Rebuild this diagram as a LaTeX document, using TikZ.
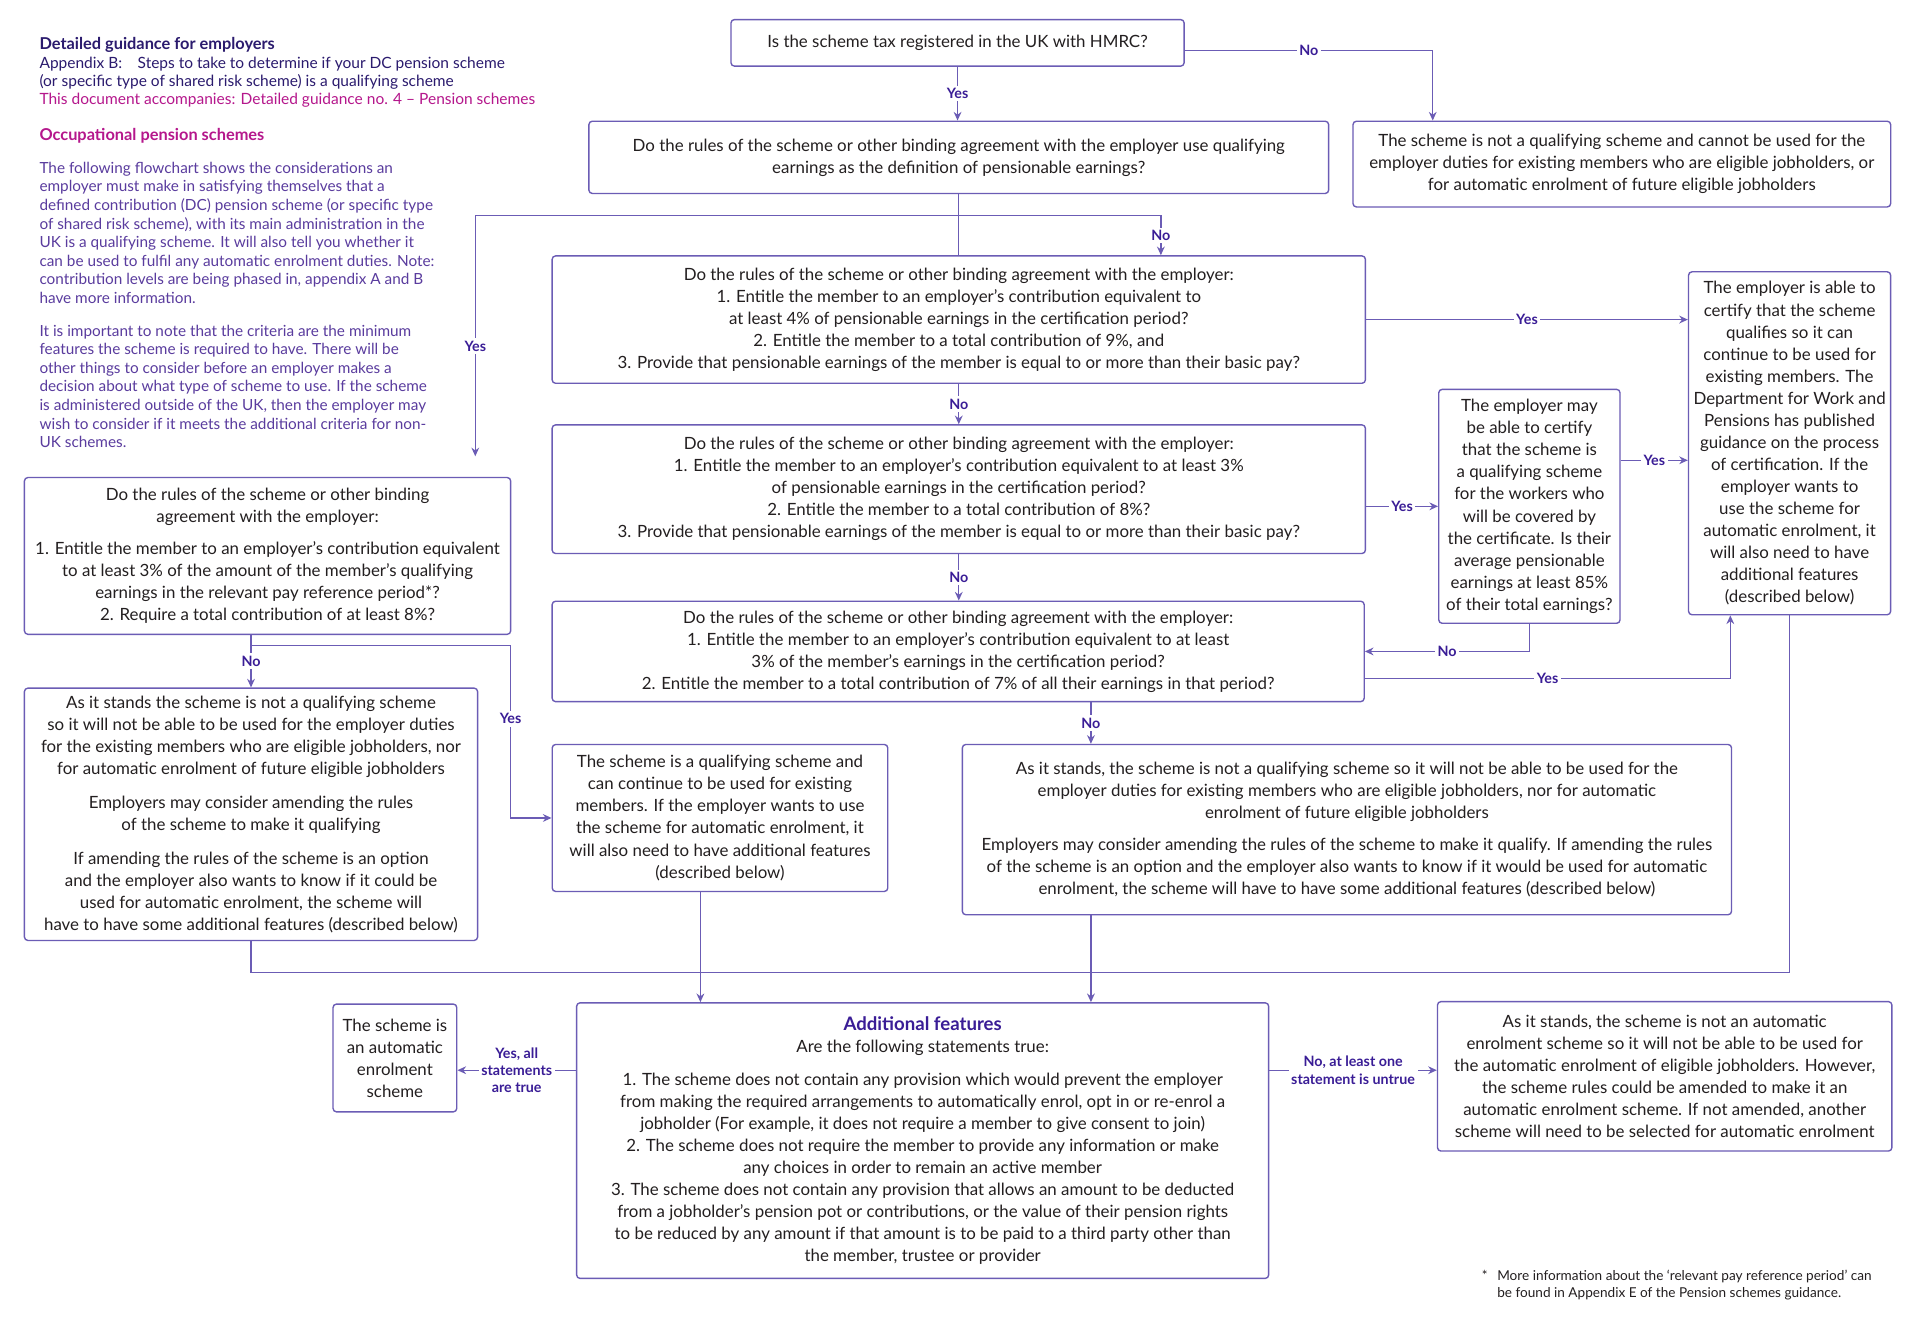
\documentclass[tikz,border=0pt]{standalone}
\usepackage{fontspec}
\setmainfont{Lato}
\usetikzlibrary{arrows.meta}

\definecolor{linecol}{HTML}{6B5CB5}
\definecolor{lblcol}{HTML}{3A1D96}
\definecolor{titlecol}{HTML}{2B1B6E}
\definecolor{magcol}{HTML}{B5178C}
\definecolor{paracol}{HTML}{5A3C9E}
\definecolor{bodycol}{HTML}{231F20}

\newcommand{\boxfont}{\fontsize{9.8}{12.8}\selectfont}
\newcommand{\parafont}{\fontsize{8.9}{10.8}\selectfont}
\newcommand{\hdrfont}{\fontsize{9}{11}\selectfont}

\begin{document}
\begin{tikzpicture}[
    x=0.025cm, y=-0.025cm,
    font=\boxfont,
    box/.style={
        draw=linecol,
        line width=0.8pt,
        rounded corners=2pt,
        align=center,
        inner sep=0pt,
        text=bodycol
    },
    lbl/.style={
        fill=white,
        text=lblcol,
        font=\fontsize{8.3}{10}\selectfont\bfseries,
        inner sep=1.5pt
    },
    conn/.style={draw=linecol, line width=0.8pt},
    arrow/.style={conn, -{Stealth[length=5pt,width=4.5pt]}}
]
\useasboundingbox (0,0) rectangle (1568,1079);
\path[fill=white] (0,0) rectangle (1568,1079);

% Heading and notes
\node[anchor=west, inner sep=0pt, text=titlecol, font=\fontsize{9.5}{11}\selectfont\bfseries] (title) at (32,37) {Detailed guidance for employers};
\node[anchor=west, inner sep=0pt, text=titlecol, font=\hdrfont] (appx) at (32,52) {Appendix B:\quad Steps to take to determine if your DC pension scheme};
\node[anchor=west, inner sep=0pt, text=titlecol, font=\hdrfont] (appxb) at (32,67) {(or specific type of shared risk scheme) is a qualifying scheme};
\node[anchor=west, inner sep=0pt, text=magcol, font=\hdrfont] (accomp) at (32,82) {This document accompanies: Detailed guidance no. 4 -- Pension schemes};
\node[anchor=west, inner sep=0pt, text=magcol, font=\fontsize{9.5}{11}\selectfont\bfseries] (occup) at (32,111) {Occupational pension schemes};
\node[anchor=north west, align=left, inner sep=0pt, text=paracol, font=\parafont] (introa) at (32,132)
{The following flowchart shows the considerations an\\employer must make in satisfying themselves that a\\defined contribution (DC) pension scheme (or specific type\\of shared risk scheme), with its main administration in the\\UK is a qualifying scheme. It will also tell you whether it\\can be used to fulfil any automatic enrolment duties. Note:\\contribution levels are being phased in, appendix A and B\\have more information.};
\node[anchor=north west, align=left, inner sep=0pt, text=paracol, font=\parafont] (introb) at (32,265)
{It is important to note that the criteria are the minimum\\features the scheme is required to have. There will be\\other things to consider before an employer makes a\\decision about what type of scheme to use. If the scheme\\is administered outside of the UK, then the employer may\\wish to consider if it meets the additional criteria for non-\\UK schemes.};

% Top questions
\node[box, minimum width=9.25cm, minimum height=0.95cm] (hmrc) at (782,35)
{Is the scheme tax registered in the UK with HMRC?};
\node[box, minimum width=15.1cm, minimum height=1.475cm] (qualearn) at (783,128.5)
{Do the rules of the scheme or other binding agreement with the employer use qualifying\\earnings as the definition of pensionable earnings?};
\node[box, minimum width=10.975cm, minimum height=1.75cm] (notqual) at (1324.5,134)
{The scheme is not a qualifying scheme and cannot be used for the\\employer duties for existing members who are eligible jobholders, or\\for automatic enrolment of future eligible jobholders};

% Middle questions
\node[box, minimum width=16.6cm, minimum height=2.6cm] (qfour) at (783,261)
{Do the rules of the scheme or other binding agreement with the employer:\\1. Entitle the member to an employer’s contribution equivalent to\\at least 4\% of pensionable earnings in the certification period?\\2. Entitle the member to a total contribution of 9\%, and\\3. Provide that pensionable earnings of the member is equal to or more than their basic pay?};
\node[box, minimum width=16.6cm, minimum height=2.625cm] (qthree) at (783,399.5)
{Do the rules of the scheme or other binding agreement with the employer:\\1. Entitle the member to an employer’s contribution equivalent to at least 3\%\\of pensionable earnings in the certification period?\\2. Entitle the member to a total contribution of 8\%?\\3. Provide that pensionable earnings of the member is equal to or more than their basic pay?};
\node[box, minimum width=16.575cm, minimum height=2.05cm] (qseven) at (782.5,532)
{Do the rules of the scheme or other binding agreement with the employer:\\1. Entitle the member to an employer’s contribution equivalent to at least\\3\% of the member’s earnings in the certification period?\\2. Entitle the member to a total contribution of 7\% of all their earnings in that period?};

% Certification
\node[box, minimum width=3.7cm, minimum height=4.775cm] (certmay) at (1249,413.5)
{The employer may\\be able to certify\\that the scheme is\\a qualifying scheme\\for the workers who\\will be covered by\\the certificate. Is their\\average pensionable\\earnings at least 85\%\\of their total earnings?};
\node[box, minimum width=4.125cm, minimum height=7cm] (certok) at (1461.5,362)
{The employer is able to\\certify that the scheme\\qualifies so it can\\continue to be used for\\existing members. The\\Department for Work and\\Pensions has published\\guidance on the process\\of certification. If the\\employer wants to\\use the scheme for\\automatic enrolment, it\\will also need to have\\additional features\\(described below)};

% Left branch
\node[box, minimum width=9.925cm, minimum height=3.2cm] (qleft) at (218.5,454)
{Do the rules of the scheme or other binding\\agreement with the employer:\\[6pt]1. Entitle the member to an employer’s contribution equivalent\\to at least 3\% of the amount of the member’s qualifying\\earnings in the relevant pay reference period*?\\2. Require a total contribution of at least 8\%?};
\node[box, minimum width=9.25cm, minimum height=5.15cm] (notqleft) at (205,665)
{As it stands the scheme is not a qualifying scheme\\so it will not be able to be used for the employer duties\\for the existing members who are eligible jobholders, nor\\for automatic enrolment of future eligible jobholders\\[7pt]Employers may consider amending the rules\\of the scheme to make it qualifying\\[7pt]If amending the rules of the scheme is an option\\and the employer also wants to know if it could be\\used for automatic enrolment, the scheme will\\have to have some additional features (described below)};

% Outcomes
\node[box, minimum width=6.85cm, minimum height=3cm] (qualmid) at (588,668)
{The scheme is a qualifying scheme and\\can continue to be used for existing\\members. If the employer wants to use\\the scheme for automatic enrolment, it\\will also need to have additional features\\(described below)};
\node[box, minimum width=15.7cm, minimum height=3.475cm] (notqmid) at (1100,677.5)
{As it stands, the scheme is not a qualifying scheme so it will not be able to be used for the\\employer duties for existing members who are eligible jobholders, nor for automatic\\enrolment of future eligible jobholders\\[6pt]Employers may consider amending the rules of the scheme to make it qualify. If amending the rules\\of the scheme is an option and the employer also wants to know if it would be used for automatic\\enrolment, the scheme will have to have some additional features (described below)};

% Additional features
\node[box, minimum width=14.125cm, minimum height=5.625cm] (addfeat) at (753.5,931.5)
{{\fontsize{10.8}{12.8}\selectfont\bfseries\color{lblcol}Additional features}\\Are the following statements true:\\[6pt]1. The scheme does not contain any provision which would prevent the employer\\from making the required arrangements to automatically enrol, opt in or re-enrol a\\jobholder (For example, it does not require a member to give consent to join)\\2. The scheme does not require the member to provide any information or make\\any choices in order to remain an active member\\3. The scheme does not contain any provision that allows an amount to be deducted\\from a jobholder’s pension pot or contributions, or the value of their pension rights\\to be reduced by any amount if that amount is to be paid to a third party other than\\the member, trustee or provider};
\node[box, minimum width=2.525cm, minimum height=2.2cm] (aeyes) at (322.5,864)
{The scheme is\\an automatic\\enrolment\\scheme};
\node[box, minimum width=9.275cm, minimum height=3.05cm] (aeno) at (1359.5,879)
{As it stands, the scheme is not an automatic\\enrolment scheme so it will not be able to be used for\\the automatic enrolment of eligible jobholders. However,\\the scheme rules could be amended to make it an\\automatic enrolment scheme. If not amended, another\\scheme will need to be selected for automatic enrolment};

% Footnote
\node[anchor=north west, align=left, inner sep=0pt, text=bodycol, font=\fontsize{7.9}{10}\selectfont] (fnote) at (1210,1037)
{*\hspace{0.7em}More information about the ‘relevant pay reference period’ can\\\hphantom{*\hspace{0.7em}}be found in Appendix E of the Pension schemes guidance.};

% Helper points
\coordinate (qsplit) at (782,176);
\coordinate (notin) at ([xshift=-3.86cm]notqual.north);
\coordinate (mayout) at ([yshift=0.94cm]certmay.east);
\coordinate (sevenout) at ([yshift=-0.55cm]qseven.east);
\coordinate (okin) at ([xshift=-1.21cm]certok.south);
\coordinate (sevendown) at ([xshift=2.71cm]qseven.south);
\coordinate (lsplit) at (205,527);
\coordinate (lyes) at (417,587);
\coordinate (qualdown) at ([xshift=-0.4cm]qualmid.south);
\coordinate (bus) at (0,794);
\coordinate (aerow) at (0,874);

% Arrows: top part
\draw[arrow] (hmrc.south) -- node[lbl]{Yes} (hmrc.south |- qualearn.north);
\draw[arrow] ([yshift=-0.15cm]hmrc.east) -| node[lbl, pos=0.25]{No} (notin);
\draw[conn] (qualearn.south) -- (qualearn.south |- qfour.north);
\draw[arrow, shorten >=0.42cm] (qsplit) -| node[lbl, pos=0.75]{Yes} ([xshift=4.24cm]qleft.north);
\draw[arrow] (qsplit) -| node[lbl, pos=0.75]{No} ([xshift=4.125cm]qfour.north);

% Arrows: middle questions
\draw[arrow] (qfour.south) -- node[lbl]{No} (qfour.south |- qthree.north);
\draw[arrow] (qfour.east) -- node[lbl]{Yes} (qfour.east -| certok.west);
\draw[arrow] (qthree.south) -- node[lbl]{No} (qthree.south |- qseven.north);
\draw[arrow] (certmay.west -| qthree.east) -- node[lbl]{Yes} (certmay.west);
\draw[arrow] (mayout) -- node[lbl]{Yes} (mayout -| certok.west);
\draw[arrow] (certmay.south) |- node[lbl, pos=0.75]{No} (qseven.east);
\draw[arrow] (sevenout) -| node[lbl, pos=0.25]{Yes} (okin);
\draw[arrow] (sevendown) -- node[lbl]{No} (sevendown |- notqmid.north);

% Arrows: left branch
\draw[arrow] (notqleft.north |- qleft.south) -- node[lbl]{No} (notqleft.north);
\draw[arrow] (lsplit) -| (lyes) node[lbl]{Yes} |- (qualmid.west);

% Arrows: into additional features
\draw[conn] (notqleft.south) |- (certok.south |- bus) -- (certok.south);
\draw[arrow] (qualdown) -- (qualdown |- addfeat.north);
\draw[arrow] (sevendown |- notqmid.south) -- (sevendown |- addfeat.north);

% Arrows: additional features outcomes
\draw[arrow] (addfeat.west |- aerow) -- node[lbl, align=center]{Yes, all\\statements\\are true} (aeyes.east |- aerow);
\draw[arrow] (addfeat.east |- aerow) -- node[lbl, align=center]{No, at least one\\statement is untrue} (aeno.west |- aerow);

\end{tikzpicture}
\end{document}
